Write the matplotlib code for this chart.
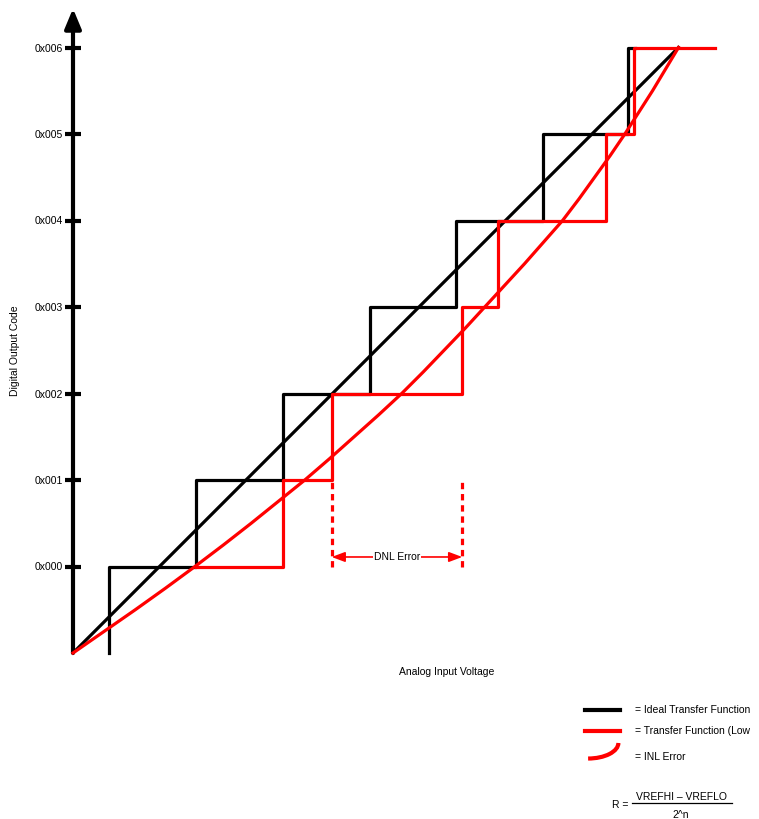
import matplotlib.pyplot as plt
from matplotlib.patches import Arc

plt.rcParams['font.family'] = ['Liberation Sans', 'DejaVu Sans']

# codes on the y axis (one LSB = 1 unit, origin one step below 0x000)
code_labels = ['0x000', '0x001', '0x002', '0x003', '0x004', '0x005', '0x006']
code_levels = [1, 2, 3, 4, 5, 6, 7]

# ideal transfer function
ideal_x = [0, 7]
ideal_y = [0, 7]
ideal_step_x = [0.42, 0.42, 1.42, 2.43, 3.43, 4.43, 5.43, 6.42, 6.5]
ideal_step_y = [0, 1, 2, 3, 4, 5, 6, 7, 7]

# real (low accuracy) transfer function
real_step_x = [1.42, 2.43, 2.99, 4.50, 4.91, 6.16, 6.49, 7.42]
real_step_y = [1, 2, 3, 4, 5, 6, 7, 7]
real_curve_x = [0, 0.36, 0.72, 1.07, 1.41, 1.74, 2.06, 2.37, 2.68, 2.97,
                3.25, 3.53, 3.80, 4.05, 4.29, 4.53, 4.76, 4.99, 5.22,
                5.44, 5.66, 5.85, 6.03, 6.21, 6.38, 6.54, 6.70, 6.85, 7.0]
real_curve_y = [0, 0.25, 0.5, 0.75, 1.0, 1.25, 1.5, 1.75, 2.0, 2.25,
                2.5, 2.75, 3.0, 3.25, 3.5, 3.75, 4.0, 4.25, 4.5,
                4.75, 5.0, 5.25, 5.5, 5.75, 6.0, 6.25, 6.5, 6.75, 7.0]

# DNL error marker
dnl_x = [2.99, 4.50]
dnl_y = 1.11

RED = '#ff0000'

fig = plt.figure(figsize=(7.59, 8.19), dpi=100)
ax = fig.add_axes([0, 0, 1, 1])
ax.set_xlim(-73 / 86.5, 686 / 86.5)
ax.set_ylim(-166 / 86.5, 653 / 86.5)
for s in ax.spines.values():
    s.set_visible(False)
ax.spines['left'].set_position(('data', 0))
ax.set_xticks([])
ax.set_yticks(code_levels)
ax.set_yticklabels(code_labels, fontsize=7.5)
ax.tick_params(axis='y', direction='inout', length=12, width=3, pad=1)

# axes with arrows
ax.annotate('', xy=(0, 7.45), xytext=(0, 0),
            arrowprops=dict(arrowstyle='-|>,head_length=0.6,head_width=0.25',
                            lw=3, color='black', mutation_scale=20,
                            shrinkA=0, shrinkB=0))
ax.annotate('', xy=(8.02, 0), xytext=(0, 0),
            arrowprops=dict(arrowstyle='-|>,head_length=0.6,head_width=0.25',
                            lw=3, color='black', mutation_scale=20,
                            shrinkA=0, shrinkB=0))

ax.plot(ideal_step_x, ideal_step_y, drawstyle='steps-post', color='black', lw=2.3, zorder=2)
ax.plot(ideal_x, ideal_y, color='black', lw=2.3, zorder=2)
ax.plot(real_step_x, real_step_y, drawstyle='steps-post', color=RED, lw=2.3, zorder=3)
ax.plot(real_curve_x, real_curve_y, color=RED, lw=2.3, zorder=3, solid_joinstyle='round')

# DNL error
for x in dnl_x:
    ax.plot([x, x], [1.0, 2.0], color=RED, lw=2.3, ls=(0, (2, 1.5)), zorder=3)
ax.annotate('', xy=(dnl_x[0], dnl_y), xytext=(dnl_x[1], dnl_y),
            arrowprops=dict(arrowstyle='<|-|>,head_length=0.8,head_width=0.3',
                            lw=1.2, color=RED, mutation_scale=10,
                            shrinkA=0, shrinkB=0), zorder=3)
ax.text(sum(dnl_x) / 2, dnl_y, 'DNL Error', fontsize=7.5, ha='center', va='center',
        bbox=dict(facecolor='white', edgecolor='none', pad=0.5), zorder=4)

ax.text(-0.67, 3.49, 'Digital Output Code', fontsize=7.5, rotation=90,
        ha='center', va='center')
ax.text(4.32, -0.22, 'Analog Input Voltage', fontsize=7.5, ha='center', va='center')

# legend
ax.plot([5.92, 6.32], [-0.659, -0.659], color='black', lw=3)
ax.text(6.50, -0.659, '= Ideal Transfer Function', fontsize=7.5, va='center')
ax.plot([5.92, 6.32], [-0.90, -0.90], color=RED, lw=3)
ax.text(6.50, -0.90, '= Transfer Function (Low', fontsize=7.5, va='center')
ax.add_patch(Arc((5.955, -1.04), 0.70, 0.36, theta1=270, theta2=360,
                 color=RED, lw=3))
ax.text(6.50, -1.20, '= INL Error', fontsize=7.5, va='center')

# resolution formula
ax.text(6.23, -1.757, 'R =', fontsize=7.5, va='center')
ax.text(7.04, -1.665, 'VREFHI \u2013 VREFLO', fontsize=7.5, ha='center', va='center')
ax.plot([6.46, 7.62], [-1.734, -1.734], color='black', lw=0.9)
ax.text(7.02, -1.873, '2^n', fontsize=7.5, ha='center', va='center')

fig.savefig('out.png', dpi=100)
